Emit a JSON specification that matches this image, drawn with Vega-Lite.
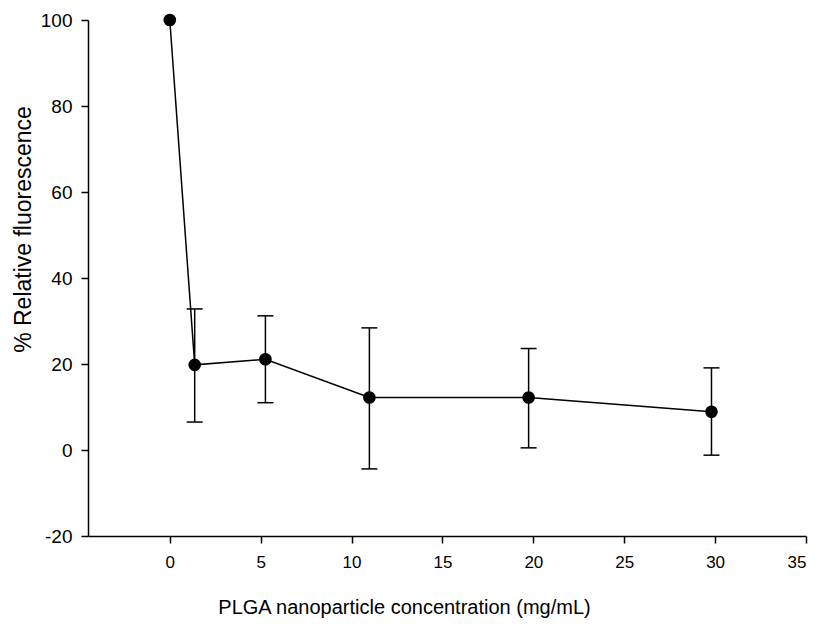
{
  "$schema": "https://vega.github.io/schema/vega-lite/v6.json",
  "width": 718,
  "height": 516,
  "autosize": "none",
  "padding": {"left": 88, "top": 20, "right": 13, "bottom": 88},
  "background": "white",
  "config": {
    "view": {"stroke": null},
    "font": "Liberation Sans",
    "axis": {
      "grid": false,
      "domainColor": "black",
      "domainWidth": 1.5,
      "tickColor": "black",
      "tickWidth": 1.5,
      "tickSize": 7,
      "labelColor": "black",
      "labelFont": "Liberation Sans",
      "titleFont": "Liberation Sans",
      "titleFontWeight": "normal",
      "titleColor": "black"
    }
  },
  "data": {
    "values": [
      {"conc": 0, "fl": 100, "lo": 100, "hi": 100},
      {"conc": 1.37, "fl": 19.8, "lo": 6.5, "hi": 32.8},
      {"conc": 5.26, "fl": 21.1, "lo": 11.0, "hi": 31.2},
      {"conc": 10.98, "fl": 12.2, "lo": -4.4, "hi": 28.4},
      {"conc": 19.74, "fl": 12.2, "lo": 0.5, "hi": 23.6},
      {"conc": 29.8, "fl": 8.9, "lo": -1.2, "hi": 19.1}
    ]
  },
  "encoding": {
    "x": {
      "field": "conc",
      "type": "quantitative",
      "scale": {"domain": [-4.5, 35], "nice": false, "zero": false},
      "axis": {
        "values": [0, 5, 10, 15, 20, 25, 30, 35],
        "title": "PLGA nanoparticle concentration (mg/mL)",
        "labelFontSize": 17,
        "titleFontSize": 20,
        "labelPadding": 11,
        "titlePadding": 27,
        "titleX": 316,
        "titleAlign": "center"
      }
    }
  },
  "layer": [
    {
      "transform": [{"filter": "datum.conc > 0"}],
      "mark": {"type": "rule", "color": "black", "strokeWidth": 1.5},
      "encoding": {
        "y": {"field": "lo", "type": "quantitative"},
        "y2": {"field": "hi"}
      }
    },
    {
      "transform": [{"filter": "datum.conc > 0"}],
      "mark": {"type": "tick", "orient": "horizontal", "color": "black", "size": 16, "thickness": 1.5, "opacity": 1},
      "encoding": {"y": {"field": "lo", "type": "quantitative"}}
    },
    {
      "transform": [{"filter": "datum.conc > 0"}],
      "mark": {"type": "tick", "orient": "horizontal", "color": "black", "size": 16, "thickness": 1.5, "opacity": 1},
      "encoding": {"y": {"field": "hi", "type": "quantitative"}}
    },
    {
      "mark": {"type": "line", "color": "black", "strokeWidth": 1.5},
      "encoding": {
        "y": {"field": "fl", "type": "quantitative"}
      }
    },
    {
      "mark": {"type": "point", "filled": true, "color": "black", "opacity": 1, "size": 160},
      "encoding": {
        "y": {
          "field": "fl",
          "type": "quantitative",
          "scale": {"domain": [-20, 100], "nice": false},
          "axis": {
            "values": [-20, 0, 20, 40, 60, 80, 100],
            "labelExpr": "'' + datum.value",
            "title": "% Relative fluorescence",
            "labelFontSize": 19,
            "titleFontSize": 23,
            "labelPadding": 9,
            "titlePadding": 5,
            "titleY": 209,
            "titleAlign": "center"
          }
        }
      }
    }
  ]
}
